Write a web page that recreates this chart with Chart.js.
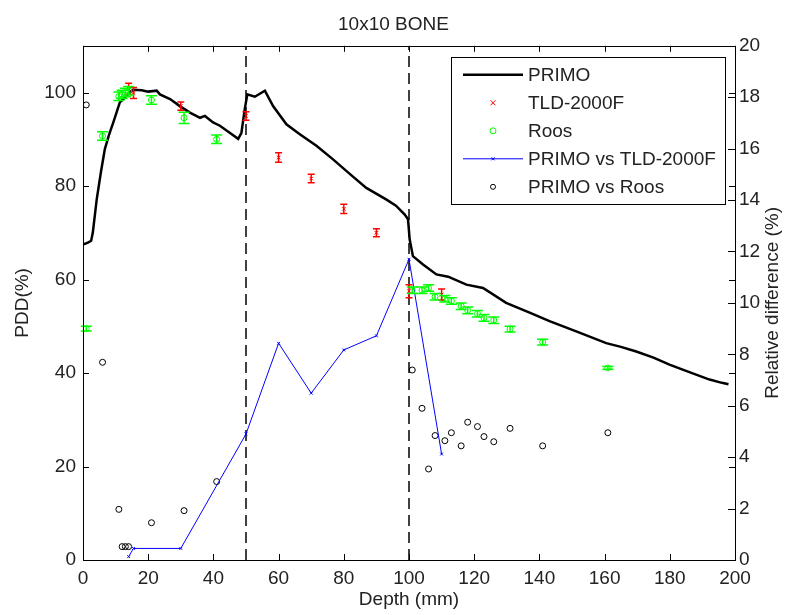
<!DOCTYPE html>
<html>
<head>
<meta charset="utf-8">
<script src="https://cdn.jsdelivr.net/npm/chart.js"></script>
<style>
  html, body { margin: 0; padding: 0; background: #fff; }
  #wrap { width: 787px; height: 615px; }
</style>
</head>
<body>
<div id="wrap"><canvas id="pdd" width="787" height="615"></canvas></div>
<script>
// PRIMO Monte Carlo depth dose curve (left axis)
const primoDepth = [0, 1.5, 2.5, 3, 4.2, 5.5, 6.7, 8, 9.3, 11.3, 12.4, 14, 15.4, 18, 20, 22.6, 23.6, 26.7, 29.7, 32.8, 35.9, 37.4, 39.9, 42, 45, 47.6,
  48.6, 49.6, 50.4, 52.7, 55.8, 58.3, 62.4, 66.5, 71.6, 76.7, 82, 86.9, 93.1, 96, 98.7, 99.7, 100.2, 101.2, 104.3, 108.4, 112, 117.6,
  122.7, 129.8, 137, 143.1, 151.3, 160.5, 165, 169.7, 175, 179.9, 186, 192.2, 196, 198];
const primoPdd = [67.5, 67.9, 68.3, 70, 77.1, 83, 87.9, 91, 93.6, 97.9, 98.6, 99.8, 100.6, 100.5, 100.2, 100.4, 99.6, 98.6, 97.1, 95.7, 94.6, 95.0, 93.6, 92.9, 91.4, 90.1,
  91.4, 96.4, 99.6, 99.1, 100.4, 97.1, 93.2, 91.1, 88.6, 85.7, 82.5, 79.6, 77.1, 75.8, 73.9, 72.9, 68.6, 65, 63.2, 61.1, 60.6, 58.9,
  58.2, 55, 52.9, 51.1, 48.9, 46.4, 45.6, 44.6, 43.3, 41.8, 40.2, 38.6, 37.9, 37.6];

// TLD-2000F measurements
const tldDepth = [14, 15.5, 30, 50, 60, 70, 80, 90, 100, 110];
const tldPdd = [100.8, 99.9, 97.1, 95.0, 86.1, 81.6, 75.1, 70.0, 57.5, 56.8];
const tldErr = [1.2, 1.2, 0.9, 0.9, 1.0, 0.9, 1.0, 0.85, 1.4, 1.2];

// Roos chamber measurements
const roosDepth = [1, 6, 11, 12, 13, 14, 21, 31, 41, 101, 104, 106, 108, 111, 113, 116, 118, 121, 123, 126, 131, 141, 161];
const roosPdd = [49.5, 90.7, 99.2, 99.6, 100.0, 100.4, 98.4, 94.6, 90.0, 57.7, 57.7, 58.2, 56.3, 55.9, 55.4, 54.3, 53.4, 52.7, 51.8, 51.3, 49.4, 46.6, 41.1];
const roosErr = [0.5, 0.9, 0.9, 0.9, 0.9, 0.9, 0.9, 1.2, 0.9, 0.7, 0.7, 0.7, 0.7, 0.7, 0.7, 0.7, 0.7, 0.7, 0.7, 0.7, 0.6, 0.6, 0.3];

// relative differences (right axis)
const diffTldDepth = [14, 15.5, 30, 50, 60, 70, 80, 90, 100, 110];
const diffTld = [0.13, 0.45, 0.45, 4.9, 8.43, 6.49, 8.17, 8.72, 11.7, 4.12];
const diffRoosDepth = roosDepth;
const diffRoos = [17.7, 7.69, 1.97, 0.52, 0.52, 0.52, 1.45, 1.92, 3.05, 7.39, 5.9, 3.54, 4.84, 4.64, 4.95, 4.44, 5.36, 5.19, 4.8, 4.6, 5.12, 4.44, 4.95];

// slab interfaces
const interfaces = [50, 100];

const FONT = "'Liberation Sans', Arial, Helvetica, sans-serif";
const TEXT = '#222';
const rightTitle = 'Relative difference (%)';

const pts = (xs, ys) => xs.map((x, i) => ({ x: x, y: ys[i] }));

const errorBars = {
  id: 'errorBars',
  afterDatasetsDraw(chart) {
    const ctx = chart.ctx;
    chart.data.datasets.forEach((ds, i) => {
      if (!ds.errors) return;
      const meta = chart.getDatasetMeta(i);
      const scale = chart.scales[ds.yAxisID || 'y'];
      ctx.save();
      ctx.strokeStyle = ds.borderColor;
      ctx.lineWidth = 1.5;
      meta.data.forEach((pt, j) => {
        const v = ds.data[j].y, e = ds.errors[j];
        const y0 = scale.getPixelForValue(v + e);
        const y1 = scale.getPixelForValue(v - e);
        const x = pt.x, w = ds.capWidth / 2;
        ctx.beginPath();
        ctx.moveTo(x, y0); ctx.lineTo(x, y1);
        ctx.moveTo(x - w, y0); ctx.lineTo(x + w, y0);
        ctx.moveTo(x - w, y1); ctx.lineTo(x + w, y1);
        ctx.stroke();
      });
      ctx.restore();
    });
  }
};

// MATLAB style box with inward ticks, right label reads bottom-up
const frame = {
  id: 'frame',
  afterDraw(chart) {
    const { ctx, chartArea: a, scales } = chart;
    ctx.save();
    ctx.strokeStyle = '#000';
    ctx.lineWidth = 1;
    ctx.beginPath();
    scales.x.ticks.forEach(t => {
      const px = Math.round(scales.x.getPixelForValue(t.value)) + 0.5;
      ctx.moveTo(px, a.bottom); ctx.lineTo(px, a.bottom - 6);
      ctx.moveTo(px, a.top); ctx.lineTo(px, a.top + 6);
    });
    scales.y.ticks.forEach(t => {
      const py = Math.round(scales.y.getPixelForValue(t.value)) + 0.5;
      ctx.moveTo(a.left, py); ctx.lineTo(a.left + 6, py);
      ctx.moveTo(a.right, py); ctx.lineTo(a.right - 6, py);
    });
    scales.y1.ticks.forEach(t => {
      const py = Math.round(scales.y1.getPixelForValue(t.value)) + 0.5;
      ctx.moveTo(a.right, py); ctx.lineTo(a.right - 7, py);
    });
    ctx.stroke();
    ctx.strokeRect(Math.round(a.left) + 0.5, Math.round(a.top) + 0.5,
      Math.round(a.right - a.left), Math.round(a.bottom - a.top));

    ctx.translate(chart.width - 14, (a.top + a.bottom) / 2);
    ctx.rotate(-Math.PI / 2);
    ctx.font = '19px ' + FONT;
    ctx.fillStyle = TEXT;
    ctx.textAlign = 'center';
    ctx.textBaseline = 'middle';
    ctx.fillText(rightTitle, 0, 0);
    ctx.restore();
  }
};

function drawMarker(ctx, style, x, y, r) {
  ctx.beginPath();
  if (style === 'circle') {
    ctx.arc(x, y, r, 0, Math.PI * 2);
  } else if (style === 'crossRot') {
    ctx.moveTo(x - r, y - r); ctx.lineTo(x + r, y + r);
    ctx.moveTo(x - r, y + r); ctx.lineTo(x + r, y - r);
  }
  ctx.stroke();
}

const boxLegend = {
  id: 'boxLegend',
  afterDraw(chart) {
    const { ctx, chartArea: a } = chart;
    const items = chart.data.datasets.filter(ds => ds.label);
    const left = a.right - 284, top = a.top + 11, w = 274, h = 147;
    ctx.save();
    ctx.fillStyle = '#fff';
    ctx.fillRect(left, top, w, h);
    ctx.strokeStyle = '#000';
    ctx.lineWidth = 1;
    ctx.strokeRect(Math.round(left) + 0.5, Math.round(top) + 0.5, w, h);
    ctx.font = '19px ' + FONT;
    ctx.textBaseline = 'middle';
    items.forEach((ds, i) => {
      const y = top + 18 + i * 28;
      const x0 = left + 12, x1 = left + 72;
      ctx.strokeStyle = ds.borderColor;
      if (ds.showLine) {
        ctx.lineWidth = ds.borderWidth;
        ctx.beginPath(); ctx.moveTo(x0, y); ctx.lineTo(x1, y); ctx.stroke();
      }
      if (ds.pointRadius > 0) {
        ctx.lineWidth = 1;
        drawMarker(ctx, ds.pointStyle, (x0 + x1) / 2, y, ds.legendRadius || ds.pointRadius);
      }
      ctx.fillStyle = TEXT;
      ctx.fillText(ds.label, left + 77, y + 1);
    });
    ctx.restore();
  }
};

const datasets = [
  {
    label: 'PRIMO', data: pts(primoDepth, primoPdd), yAxisID: 'y', showLine: true,
    borderColor: '#000', borderWidth: 2.5, pointRadius: 0, order: 2
  },
  {
    label: 'TLD-2000F', data: pts(tldDepth, tldPdd), yAxisID: 'y', showLine: false,
    borderColor: '#ff0000', borderWidth: 1, pointStyle: 'crossRot', pointRadius: 2.5,
    errors: tldErr, capWidth: 7, order: 1
  },
  {
    label: 'Roos', data: pts(roosDepth, roosPdd), yAxisID: 'y', showLine: false,
    borderColor: '#00ff00', backgroundColor: 'rgba(0,0,0,0)', borderWidth: 1,
    pointStyle: 'circle', pointRadius: 3, errors: roosErr, capWidth: 11, order: 1
  },
  {
    label: 'PRIMO vs TLD-2000F', data: pts(diffTldDepth, diffTld), yAxisID: 'y1', showLine: true,
    borderColor: '#0000ff', borderWidth: 1, pointStyle: 'crossRot', pointRadius: 2, legendRadius: 1.5, order: 1
  },
  {
    label: 'PRIMO vs Roos', data: pts(diffRoosDepth, diffRoos), yAxisID: 'y1', showLine: false,
    borderColor: '#000', backgroundColor: 'rgba(0,0,0,0)', borderWidth: 1,
    pointStyle: 'circle', pointRadius: 3, legendRadius: 2.5, order: 1
  }
];
interfaces.forEach(d => {
  datasets.push({
    data: [{ x: d, y: 0 }, { x: d, y: 110 }], yAxisID: 'y', showLine: true,
    borderColor: '#000', borderWidth: 1.5, borderDash: [11, 6], pointRadius: 0, order: 3
  });
});

new Chart(document.getElementById('pdd'), {
  type: 'scatter',
  data: { datasets: datasets },
  options: {
    responsive: false,
    animation: false,
    devicePixelRatio: 1,
    layout: { padding: 0 },
    elements: { line: { tension: 0 } },
    plugins: {
      legend: { display: false },
      tooltip: { enabled: false },
      title: {
        display: true, text: '10x10 BONE', color: TEXT,
        font: { family: FONT, size: 19, weight: 'normal' },
        padding: { top: 13, bottom: 10 }
      }
    },
    scales: {
      x: {
        type: 'linear', min: 0, max: 200,
        grid: { display: false, drawTicks: false },
        border: { display: false },
        ticks: { stepSize: 20, padding: 7, color: TEXT, font: { family: FONT, size: 19 } },
        title: { display: true, text: 'Depth (mm)', color: TEXT, font: { family: FONT, size: 19 }, padding: { bottom: 4 } },
        afterFit: s => { s.height = 55; }
      },
      y: {
        position: 'left', min: 0, max: 110,
        grid: { display: false, drawTicks: false },
        border: { display: false },
        ticks: { stepSize: 20, includeBounds: false, padding: 7, color: TEXT, font: { family: FONT, size: 19 } },
        title: { display: true, text: 'PDD(%)', color: TEXT, font: { family: FONT, size: 19 }, padding: { top: 11 } },
        afterFit: s => { s.width = 83; }
      },
      y1: {
        position: 'right', min: 0, max: 20,
        grid: { display: false, drawTicks: false },
        border: { display: false },
        ticks: { stepSize: 2, padding: 4, color: TEXT, font: { family: FONT, size: 19 } },
        afterFit: s => { s.width = 52; }
      }
    }
  },
  plugins: [errorBars, frame, boxLegend]
});
</script>
</body>
</html>
